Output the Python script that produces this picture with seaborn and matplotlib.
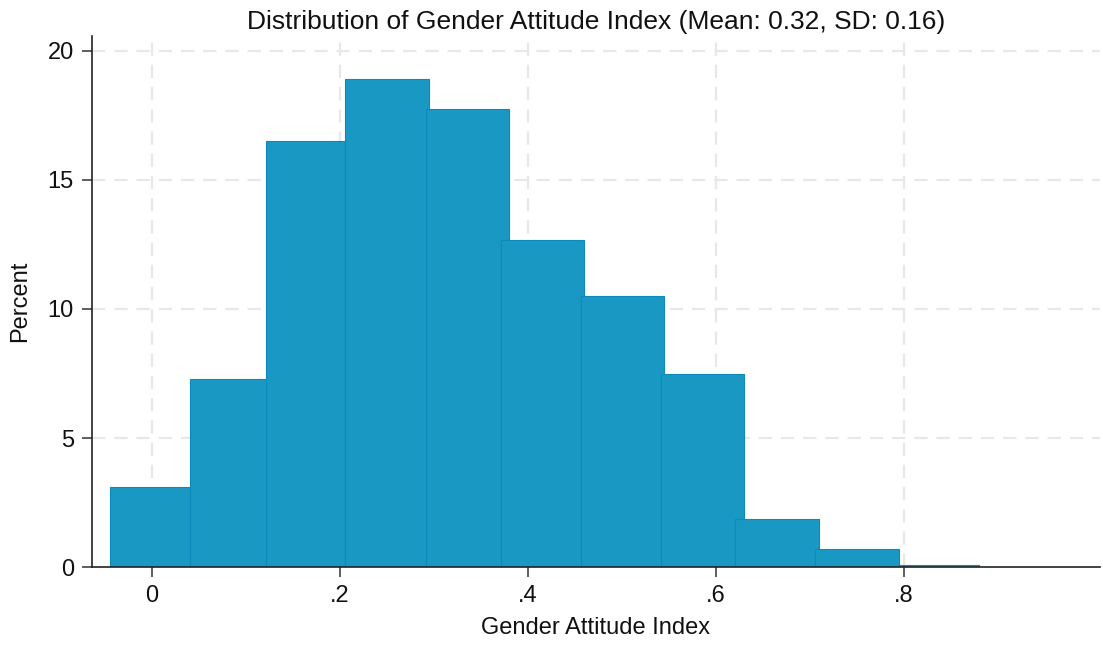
import numpy as np
import pandas as pd
import seaborn as sns
import matplotlib
matplotlib.use("Agg")
import matplotlib.pyplot as plt

# Main histogram bars (left edge, width, percent)
bar_left = [-0.0450, 0.0404, 0.1207, 0.2053, 0.2912, 0.3710, 0.4561, 0.5412, 0.6205, 0.7056, 0.7947]
bar_width = [0.0854, 0.0850, 0.0846, 0.0894, 0.0890, 0.0890, 0.0890, 0.0890, 0.0894, 0.0894, 0.0854]
bar_pct = [3.11, 7.29, 16.52, 18.91, 17.75, 12.67, 10.52, 7.48, 1.85, 0.69, 0.07]

# Small overlaid bars near the baseline
small_left = [0.1354, 0.2205, 0.2305, 0.2763, 0.2945, 0.3237, 0.3659, 0.4091, 0.5104]
small_width = [0.0699, 0.0100, 0.0458, 0.0113, 0.0291, 0.0418, 0.0043, 0.0448, 0.0302]
small_pct = [0.13, 0.13, 0.43, 0.50, 0.13, 0.13, 0.35, 0.07, 0.08]

x_ticks = [0, 0.2, 0.4, 0.6, 0.8]
x_ticklabels = ["0", ".2", ".4", ".6", ".8"]
y_ticks = [0, 5, 10, 15, 20]

sns.set_theme(style="white")
plt.rcParams["font.family"] = ["Liberation Sans", "DejaVu Sans"]

fig = plt.figure(figsize=(11.03, 6.45), dpi=100)
ax = fig.add_axes([0.0834, 0.1209, 0.9136, 0.8233])

fill = "#1a98c4"
edge = "#0d8abd"

def draw(lefts, widths, pcts):
    for l, w, p in zip(lefts, widths, pcts):
        sns.histplot(x=[l + w / 2], weights=[p], bins=[l, l + w], ax=ax,
                     stat="count", color=fill, edgecolor=edge, linewidth=0.8,
                     alpha=1.0, zorder=2)

draw(small_left, small_width, small_pct)
draw(bar_left, bar_width, bar_pct)

ax.set_xlim(-0.064, 1.0085)
ax.set_ylim(0, 20.58)
ax.set_xticks(x_ticks)
ax.set_xticklabels(x_ticklabels)
ax.set_yticks(y_ticks)

for xv in x_ticks:
    ax.axvline(xv, color="#e8e8e8", lw=1.6, ls=(0, (6, 4)), zorder=0)
for yv in y_ticks[1:]:
    ax.axhline(yv, color="#e8e8e8", lw=1.6, ls=(0, (6, 4)), zorder=0)

for s in ["top", "right"]:
    ax.spines[s].set_visible(False)
for s in ["left", "bottom"]:
    ax.spines[s].set_color("#222222")
    ax.spines[s].set_linewidth(1.2)

ax.tick_params(axis="both", which="major", direction="out", length=7, width=1.1,
               color="#333333", labelsize=17, labelcolor="#111111", pad=6,
               bottom=True, left=True)

ax.set_xlabel("Gender Attitude Index", fontsize=17, color="#111111", labelpad=7)
ax.set_ylabel("Percent", fontsize=17, color="#111111", labelpad=12)
ax.set_title("Distribution of Gender Attitude Index (Mean: 0.32, SD: 0.16)",
             fontsize=19, color="#111111", pad=5)

fig.savefig("out.png", dpi=100)
